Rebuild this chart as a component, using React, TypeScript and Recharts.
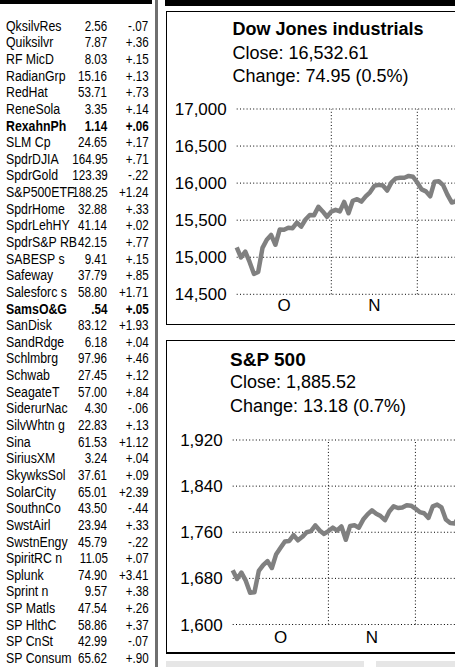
import { LineChart, Line, XAxis, YAxis, CartesianGrid, ReferenceLine } from 'recharts';

// trading days shown in the visible part of the charts (Oct 2 – Dec 18)
const tradingDays = [
  '10/2', '10/3', '10/4', '10/7', '10/8', '10/9', '10/10', '10/11', '10/14', '10/15',
  '10/16', '10/17', '10/18', '10/21', '10/22', '10/23', '10/24', '10/25', '10/28', '10/29',
  '10/30', '10/31', '11/1', '11/4', '11/5', '11/6', '11/7', '11/8', '11/11', '11/12',
  '11/13', '11/14', '11/15', '11/18', '11/19', '11/20', '11/21', '11/22', '11/25', '11/26',
  '11/27', '11/29', '12/2', '12/3', '12/4', '12/5', '12/6', '12/9', '12/10', '12/11',
  '12/12', '12/13', '12/16', '12/17', '12/18',
];

const dowClose = [
  15134, 14996, 15075, 14936, 14776, 14802, 15126, 15237, 15301, 15168,
  15373, 15371, 15399, 15392, 15467, 15413, 15509, 15570, 15568, 15680,
  15618, 15546, 15615, 15639, 15618, 15746, 15593, 15762, 15783, 15751,
  15822, 15876, 15962, 15976, 15967, 15900, 16010, 16064, 16073, 16073,
  16097, 16086, 16008, 15915, 15889, 15821, 16020, 16025, 15973, 15844,
  15739, 15755, 15885, 15875, 16168,
];

const spxClose = [
  1694, 1679, 1690, 1676, 1655, 1656, 1693, 1703, 1710, 1698,
  1722, 1733, 1744, 1745, 1755, 1746, 1752, 1760, 1762, 1772,
  1763, 1757, 1762, 1768, 1763, 1770, 1747, 1771, 1772, 1768,
  1782, 1791, 1798, 1792, 1788, 1781, 1796, 1805, 1802, 1803,
  1807, 1806, 1801, 1795, 1793, 1785, 1805, 1808, 1803, 1782,
  1776, 1775, 1787, 1781, 1811,
];

const dowTicks = [14500, 15000, 15500, 16000, 16500, 17000];
const spxTicks = [1600, 1680, 1760, 1840, 1920];
const monthLetters = ['J', 'F', 'M', 'A', 'M', 'J', 'J', 'A', 'S', 'O', 'N', 'D'];

const stockNames = [
  'QksilvRes', 'Quiksilvr', 'RF MicD', 'RadianGrp', 'RedHat', 'ReneSola', 'RexahnPh', 'SLM Cp',
  'SpdrDJIA', 'SpdrGold', 'S&P500ETF', 'SpdrHome', 'SpdrLehHY', 'SpdrS&P RB', 'SABESP s', 'Safeway',
  'Salesforc s', 'SamsO&G', 'SanDisk', 'SandRdge', 'Schlmbrg', 'Schwab', 'SeagateT', 'SiderurNac',
  'SilvWhtn g', 'Sina', 'SiriusXM', 'SkywksSol', 'SolarCity', 'SouthnCo', 'SwstAirl', 'SwstnEngy',
  'SpiritRC n', 'Splunk', 'Sprint n', 'SP Matls', 'SP HlthC', 'SP CnSt', 'SP Consum',
];
const stockPrices = [
  '2.56', '7.87', '8.03', '15.16', '53.71', '3.35', '1.14', '24.65',
  '164.95', '123.39', '188.25', '32.88', '41.14', '42.15', '9.41', '37.79',
  '58.80', '.54', '83.12', '6.18', '97.96', '27.45', '57.00', '4.30',
  '22.83', '61.53', '3.24', '37.61', '65.01', '43.50', '23.94', '45.79',
  '11.05', '74.90', '9.57', '47.54', '58.86', '42.99', '65.62',
];
const stockChanges = [
  '-.07', '+.36', '+.15', '+.13', '+.73', '+.14', '+.06', '+.17',
  '+.71', '-.22', '+1.24', '+.33', '+.02', '+.77', '+.15', '+.85',
  '+1.71', '+.05', '+1.93', '+.04', '+.46', '+.12', '+.84', '-.06',
  '+.13', '+1.12', '+.04', '+.09', '+2.39', '-.44', '+.33', '-.22',
  '+.07', '+3.41', '+.38', '+.26', '+.37', '-.07', '+.90',
];
const boldStocks = ['RexahnPh', 'SamsO&G'];

const SANS = '"Liberation Sans", Arial, Helvetica, sans-serif';

const monthOf = (d: string) => Number(d.split('/')[0]);

// first trading day of each new month -> dotted vertical lines
const monthStarts = tradingDays
  .map((d, i) => (i > 0 && monthOf(d) !== monthOf(tradingDays[i - 1]) ? i : -1))
  .filter(i => i > 0);
const bounds = [0, ...monthStarts, monthStarts[monthStarts.length - 1] + 21];
const monthMids = bounds.slice(0, -1).map((b, k) => (b + bounds[k + 1]) / 2);
const midLetter: Record<number, string> = {};
monthMids.forEach((m, k) => {
  midLetter[m] = monthLetters[monthOf(tradingDays[bounds[k]]) - 1];
});

type PanelProps = {
  values: number[];
  ticks: number[];
  chartTop: number;
  plotLeft: number;
  plotTop: number;
  plotBottom: number;
  step: number;
  xMargin: number;
};

function IndexChart({ values, ticks, chartTop, plotLeft, plotTop, plotBottom, step, xMargin }: PanelProps) {
  const data = tradingDays.map((d, i) => ({ i, day: d, close: values[i] }));
  const W = 540;
  const axisW = 60;
  const span = 60;
  const H = plotBottom - chartTop + 30;
  const tickStyle = { fontSize: 17, fill: '#000', fontFamily: SANS };
  return (
    <div style={{ position: 'absolute', left: 0, top: chartTop }}>
      <LineChart
        width={W}
        height={H}
        data={data}
        margin={{ top: plotTop - chartTop, left: plotLeft - axisW, right: W - plotLeft - span * step, bottom: 0 }}
      >
        <CartesianGrid vertical={false} stroke="#000" strokeDasharray="1 2.3" />
        <XAxis
          dataKey="i"
          type="number"
          domain={[0, span]}
          ticks={monthMids}
          tickFormatter={(v: number) => midLetter[v] ?? ''}
          axisLine={false}
          tickLine={false}
          tickSize={0}
          tickMargin={xMargin}
          height={30}
          tick={tickStyle}
          interval={0}
        />
        <YAxis
          type="number"
          domain={[ticks[0], ticks[ticks.length - 1]]}
          ticks={ticks}
          tickFormatter={(v: number) => v.toLocaleString('en-US')}
          axisLine={false}
          tickLine={false}
          tickSize={0}
          tickMargin={10}
          width={axisW}
          tick={tickStyle}
          interval={0}
        />
        {monthStarts.map(m => (
          <ReferenceLine key={m} x={m} stroke="#000" strokeDasharray="1 2.3" />
        ))}
        <Line
          type="linear"
          dataKey="close"
          stroke="#808080"
          strokeWidth={4.5}
          strokeLinejoin="round"
          dot={false}
          isAnimationActive={false}
        />
      </LineChart>
    </div>
  );
}

function Text({ left, top, size, bold, children }: { left: number; top: number; size: number; bold?: boolean; children: string }) {
  return (
    <div style={{ position: 'absolute', left, top, fontSize: size, lineHeight: `${size}px`, fontWeight: bold ? 700 : 400, whiteSpace: 'nowrap' }}>
      {children}
    </div>
  );
}

export default function App() {
  const rowH = 16.64;
  // the listing is set in a condensed face; squeeze the regular sans to match
  const nameSqueeze = 0.88;
  const numSqueeze = 0.83;
  return (
    <div style={{ position: 'fixed', left: 0, top: 0, width: 455, height: 667, overflow: 'hidden', background: '#fff', fontFamily: SANS, color: '#000' }}>
      {/* stock listing column */}
      <div style={{ position: 'absolute', left: 0, top: 0, width: 152, height: 4, background: '#000' }} />
      {stockNames.map((name, i) => {
        const bold = boldStocks.includes(name);
        const top = 26 - rowH / 2 + i * rowH;
        const cell = { position: 'absolute' as const, top, height: rowH, lineHeight: `${rowH}px`, fontSize: 14, fontWeight: bold ? 700 : 400, whiteSpace: 'nowrap' as const };
        return (
          <div key={name}>
            <div style={{ ...cell, left: 6, transform: `scaleX(${nameSqueeze})`, transformOrigin: 'left center' }}>{name}</div>
            <div style={{ ...cell, right: 455 - 107.5, textAlign: 'right', transform: `scaleX(${numSqueeze})`, transformOrigin: 'right center' }}>{stockPrices[i]}</div>
            <div style={{ ...cell, right: 455 - 148.5, textAlign: 'right', transform: `scaleX(${numSqueeze})`, transformOrigin: 'right center' }}>{stockChanges[i]}</div>
          </div>
        );
      })}
      <div style={{ position: 'absolute', left: 155, top: 0, width: 3, height: 667, background: '#6f6f6f' }} />

      {/* chart column */}
      <div style={{ position: 'absolute', left: 165, top: 0, width: 290, height: 6, background: '#000' }} />
      <div style={{ position: 'absolute', left: 166, top: 11, width: 400, height: 314, boxSizing: 'border-box', border: '1px solid #000' }} />
      <div style={{ position: 'absolute', left: 166, top: 340, width: 400, height: 314, boxSizing: 'border-box', border: '1px solid #000', borderBottomWidth: 2 }} />
      <div style={{ position: 'absolute', left: 166, top: 661, width: 198, height: 6, background: '#e6e6e6' }} />
      <div style={{ position: 'absolute', left: 376, top: 661, width: 100, height: 6, background: '#e6e6e6' }} />

      <Text left={232.5} top={20} size={18} bold>Dow Jones industrials</Text>
      <Text left={232.5} top={44} size={18}>Close: 16,532.61</Text>
      <Text left={232.5} top={66.5} size={18}>Change: 74.95 (0.5%)</Text>
      <IndexChart values={dowClose} ticks={dowTicks} chartTop={0} plotLeft={236.7} plotTop={109} plotBottom={294.3} step={4.3} xMargin={5} />

      <Text left={230} top={350} size={19} bold>S&amp;P 500</Text>
      <Text left={230} top={373} size={18}>Close: 1,885.52</Text>
      <Text left={230} top={397} size={18}>Change: 13.18 (0.7%)</Text>
      <IndexChart values={spxClose} ticks={spxTicks} chartTop={330} plotLeft={232.7} plotTop={440} plotBottom={624.5} step={4.35} xMargin={6} />
    </div>
  );
}
